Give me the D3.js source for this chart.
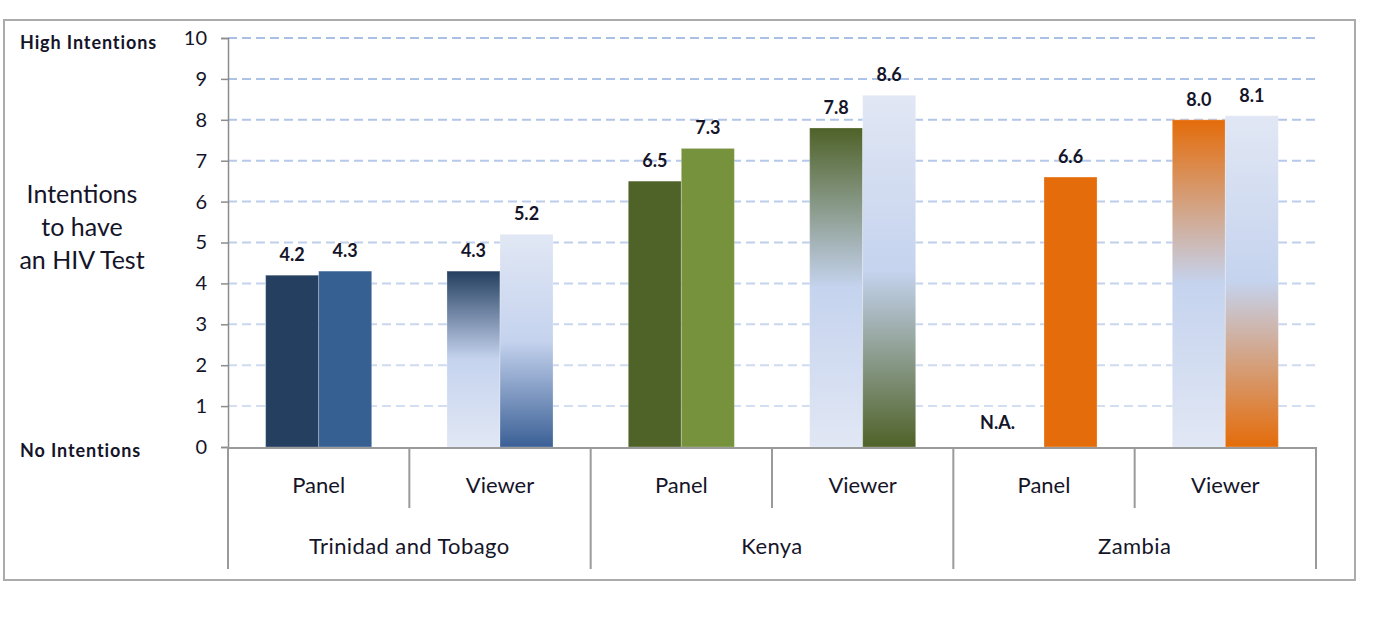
<!DOCTYPE html>
<html>
<head>
<meta charset="utf-8">
<script src="https://cdn.jsdelivr.net/npm/d3@7"></script>
<style>
  html, body { margin: 0; padding: 0; background: #fff; }
  svg text { font-family: Lato, "Open Sans", sans-serif; fill: #15152a; }
</style>
</head>
<body>
<div id="chart"></div>
<script>
// ---------- Data ----------
const countries = ["Trinidad and Tobago", "Kenya", "Zambia"];
const groups = ["Panel", "Viewer"];
const series = ["first", "second"];
// values per country, per group: [first bar, second bar]
const firstValues  = [4.2, 4.3, 6.5, 7.8, null, 8.0];
const secondValues = [4.3, 5.2, 7.3, 8.6, 6.6, 8.1];
const yTicks = [0, 1, 2, 3, 4, 5, 6, 7, 8, 9, 10];

const firstColors  = ["#243F60", "#4F6228", "#E46C0A"];
const secondColors = ["#366092", "#76923C", "#E46C0A"];
const viewerBottomColors = ["#3B6096", "#4F6228", "#E46C0A"];

// ---------- Layout ----------
const width = 1379, height = 627;
const plot = { left: 228, right: 1316, top: 38, bottom: 447 };

const svg = d3.select("#chart").append("svg")
  .attr("width", width)
  .attr("height", height);

// outer frame
svg.append("rect")
  .attr("x", 4).attr("y", 20)
  .attr("width", 1351).attr("height", 560)
  .attr("fill", "none")
  .attr("stroke", "#ababab")
  .attr("stroke-width", 2);

// ---------- Scales ----------
const y = d3.scaleLinear().domain([0, 10]).range([plot.bottom, plot.top]);
const x0 = d3.scaleBand().domain(countries).range([plot.left, plot.right]);
const x1 = d3.scaleBand().domain(groups).range([0, x0.bandwidth()]);
const x2 = d3.scaleBand().domain(series).range([0, x1.bandwidth()])
  .paddingInner(0).paddingOuter(0.71);

// ---------- Gridlines ----------
svg.append("g")
  .selectAll("line")
  .data(yTicks.filter(d => d > 0))
  .join("line")
  .attr("x1", plot.left).attr("x2", plot.right)
  .attr("y1", d => y(d)).attr("y2", d => y(d))
  .attr("stroke", "#a9bfe6")
  .attr("stroke-width", 2)
  .attr("stroke-dasharray", "9,5")
  .attr("opacity", d => 0.45 + d * 0.055);

// ---------- Gradients ----------
const defs = svg.append("defs");
countries.forEach((c, i) => {
  const top = defs.append("linearGradient")
    .attr("id", `topdark-${i}`).attr("x1", 0).attr("x2", 0).attr("y1", 0).attr("y2", 1);
  top.append("stop").attr("offset", "0%").attr("stop-color", firstColors[i]);
  top.append("stop").attr("offset", "50%").attr("stop-color", "#c5d3ee");
  top.append("stop").attr("offset", "100%").attr("stop-color", "#e1e7f4");

  const bot = defs.append("linearGradient")
    .attr("id", `botdark-${i}`).attr("x1", 0).attr("x2", 0).attr("y1", 0).attr("y2", 1);
  bot.append("stop").attr("offset", "0%").attr("stop-color", "#e1e7f4");
  bot.append("stop").attr("offset", "50%").attr("stop-color", "#c5d3ee");
  bot.append("stop").attr("offset", "100%").attr("stop-color", viewerBottomColors[i]);
});

// ---------- Bars ----------
const bars = [];
countries.forEach((c, ci) => {
  groups.forEach((g, gi) => {
    const k = ci * groups.length + gi;
    bars.push({ country: c, ci, group: g, s: "first", value: firstValues[k],
      fill: g === "Panel" ? firstColors[ci] : `url(#topdark-${ci})` });
    bars.push({ country: c, ci, group: g, s: "second", value: secondValues[k],
      fill: g === "Panel" ? secondColors[ci] : `url(#botdark-${ci})` });
  });
});

const barX = d => x0(d.country) + x1(d.group) + x2(d.s);

svg.append("g")
  .selectAll("rect")
  .data(bars.filter(d => d.value != null))
  .join("rect")
  .attr("x", barX)
  .attr("y", d => y(d.value))
  .attr("width", x2.bandwidth())
  .attr("height", d => y(0) - y(d.value))
  .attr("fill", d => d.fill)
  .attr("stroke", "rgba(255,255,255,0.25)")
  .attr("stroke-width", 1);

// value labels
svg.append("g")
  .selectAll("text")
  .data(bars)
  .join("text")
  .attr("x", d => barX(d) + x2.bandwidth() / 2 + (d.value == null ? -20 : 0))
  .attr("y", d => d.value == null ? y(0) - 18 : y(d.value) - 14)
  .attr("text-anchor", "middle")
  .attr("font-size", 18)
  .attr("font-weight", "bold")
  .text(d => d.value == null ? "N.A." : d.value.toFixed(1));

// ---------- Y axis ----------
const yAxis = svg.append("g")
  .attr("transform", `translate(${plot.left},0)`)
  .call(d3.axisLeft(y).tickValues(yTicks).tickSize(7).tickPadding(14));
yAxis.select(".domain").attr("stroke", "#8c8c8c").attr("stroke-width", 1.5);
yAxis.selectAll(".tick line").attr("stroke", "#8c8c8c").attr("stroke-width", 1.5);
yAxis.selectAll(".tick text")
  .attr("font-size", 20)
  .attr("font-family", "Lato, sans-serif")
  .attr("fill", "#15152a");

svg.append("text")
  .attr("x", 20).attr("y", y(10) + 11)
  .attr("font-size", 18).attr("font-weight", "bold")
  .attr("letter-spacing", 0.9)
  .text("High Intentions");
svg.append("text")
  .attr("x", 20).attr("y", y(0) + 10)
  .attr("font-size", 18).attr("font-weight", "bold")
  .attr("letter-spacing", 0.9)
  .text("No Intentions");

svg.append("text")
  .attr("x", 82).attr("y", 203)
  .attr("text-anchor", "middle")
  .attr("font-size", 25)
  .selectAll("tspan")
  .data(["Intentions", "to have", "an HIV Test"])
  .join("tspan")
  .attr("x", 82)
  .attr("dy", (d, i) => i === 0 ? 0 : 33)
  .text(d => d);

// ---------- X axis ----------
const axisColor = "#9a9a9a";
svg.append("line")
  .attr("x1", plot.left).attr("x2", plot.right)
  .attr("y1", y(0) + 1).attr("y2", y(0) + 1)
  .attr("stroke", axisColor).attr("stroke-width", 2);

// group separators
const groupEdges = countries.map(c => x0(c)).concat([plot.right]);
svg.append("g")
  .selectAll("line")
  .data(groupEdges)
  .join("line")
  .attr("x1", d => d).attr("x2", d => d)
  .attr("y1", y(0)).attr("y2", 569)
  .attr("stroke", axisColor).attr("stroke-width", 2);

// panel / viewer separators
svg.append("g")
  .selectAll("line")
  .data(countries)
  .join("line")
  .attr("x1", d => x0(d) + x1("Viewer")).attr("x2", d => x0(d) + x1("Viewer"))
  .attr("y1", y(0)).attr("y2", 508)
  .attr("stroke", axisColor).attr("stroke-width", 2);

const subLabels = [];
countries.forEach(c => groups.forEach(g => subLabels.push({ c, g })));
svg.append("g")
  .selectAll("text")
  .data(subLabels)
  .join("text")
  .attr("x", d => x0(d.c) + x1(d.g) + x1.bandwidth() / 2)
  .attr("y", 493)
  .attr("text-anchor", "middle")
  .attr("font-size", 22)
  .text(d => d.g);

svg.append("g")
  .selectAll("text")
  .data(countries)
  .join("text")
  .attr("x", d => x0(d) + x0.bandwidth() / 2)
  .attr("y", 554)
  .attr("text-anchor", "middle")
  .attr("font-size", 22)
  .attr("letter-spacing", 0.4)
  .text(d => d);
</script>
</body>
</html>
